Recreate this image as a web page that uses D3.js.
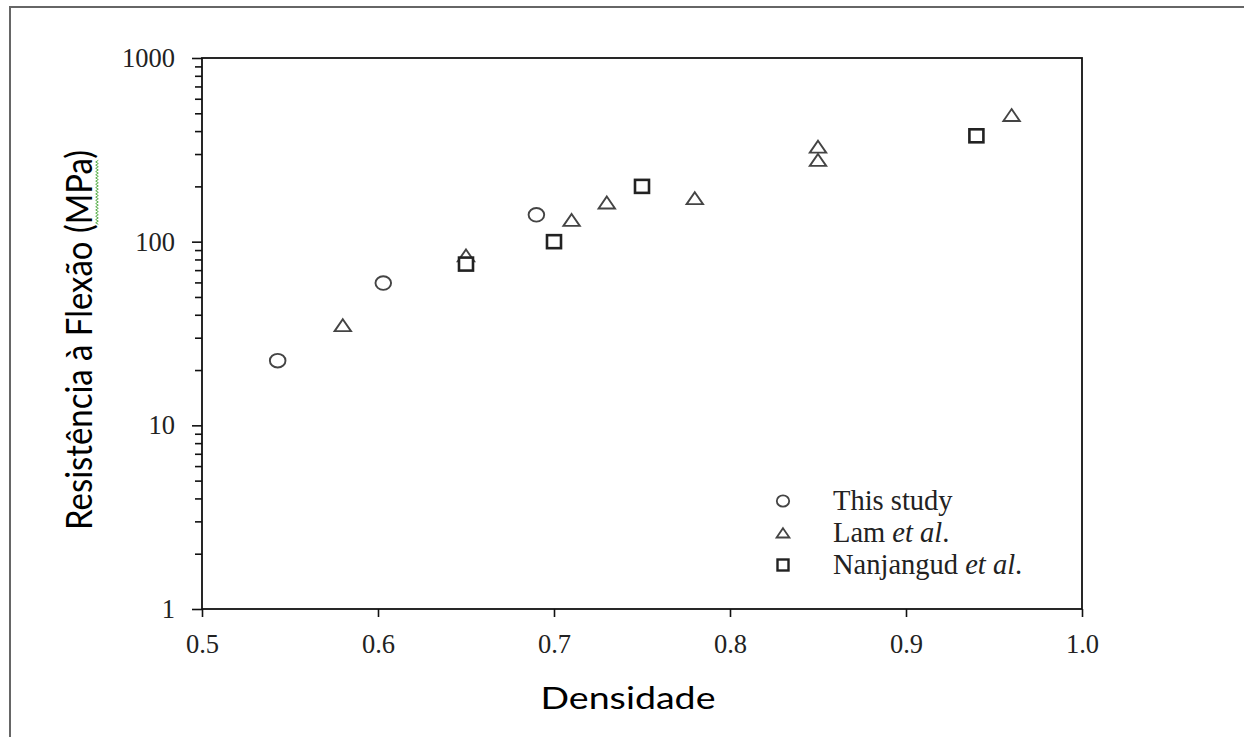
<!DOCTYPE html>
<html>
<head>
<meta charset="utf-8">
<script src="https://cdn.jsdelivr.net/npm/d3@7"></script>
<style>
  body { margin: 0; background: #fff; }
  svg { display: block; }
</style>
</head>
<body>
<svg id="chart" width="1244" height="737"></svg>
<script>
// data
var thisStudyDens = [0.543, 0.603, 0.690];
var thisStudyFlex = [22.5, 59.5, 140];
var lamDens = [0.58, 0.65, 0.71, 0.73, 0.78, 0.85, 0.85, 0.96];
var lamFlex = [35, 84, 131, 163, 172, 328, 278, 488];
var nanjDens = [0.65, 0.70, 0.75, 0.94];
var nanjFlex = [75.5, 100, 200, 377];

var xTicks = [0.5, 0.6, 0.7, 0.8, 0.9, 1.0];
var yTicks = [1, 10, 100, 1000];
var legendNames = ["This study", "Lam ", "Nanjangud "];
var legendItalic = ["", "et al", "et al"];
var legendSuffix = ["", ".", "."];
var xTitle = "Densidade";
var yTitle = "Resistência à Flexão (MPa)";

var svg = d3.select("#chart");
var m = { top: 58, right: 162, bottom: 128, left: 202 },
    W = 1244, H = 737;

// outer frame (left and top only visible)
svg.append("path")
    .attr("d", "M10," + H + "V7H" + W)
    .attr("fill", "none")
    .attr("stroke", "#666")
    .attr("stroke-width", 2);

var x = d3.scaleLinear().domain([0.5, 1.0]).range([m.left, W - m.right]);
var y = d3.scaleLog().domain([1, 1000]).range([H - m.bottom, m.top]);

var serif = "'Liberation Serif', 'Times New Roman', serif";

// minor y ticks
var minor = [];
[1, 10, 100].forEach(function(d) {
    for (var k = 2; k <= 9; k++) minor.push(d * k);
});

var yMinor = svg.append("g")
    .attr("transform", "translate(" + m.left + ",0)")
    .call(d3.axisLeft(y).tickValues(minor).tickSize(7).tickFormat(""));
yMinor.select(".domain").remove();

var yAxis = svg.append("g")
    .attr("transform", "translate(" + m.left + ",0)")
    .call(d3.axisLeft(y).tickValues(yTicks).tickSize(10).tickPadding(17)
        .tickFormat(d3.format("d")));
yAxis.select(".domain").remove();

var xAxis = svg.append("g")
    .attr("transform", "translate(0," + (H - m.bottom) + ")")
    .call(d3.axisBottom(x).tickValues(xTicks).tickSize(8).tickPadding(17)
        .tickFormat(d3.format(".1f")));
xAxis.select(".domain").remove();

svg.selectAll(".tick line").attr("stroke", "#111").attr("stroke-width", 1.6);
svg.selectAll(".tick text")
    .attr("font-family", serif)
    .attr("font-size", 26.5)
    .attr("fill", "#222");

// plot box
svg.append("rect")
    .attr("x", m.left)
    .attr("y", m.top)
    .attr("width", W - m.right - m.left)
    .attr("height", H - m.bottom - m.top)
    .attr("fill", "none")
    .attr("stroke", "#111")
    .attr("stroke-width", 1.8);

// marker shapes
function triPath(s) {
    return "M0," + (-s * 0.75) + "L" + (s) + "," + (s * 0.7) + "L" + (-s) + "," + (s * 0.7) + "Z";
}

var circles = svg.append("g");
circles.selectAll("ellipse")
    .data(d3.zip(thisStudyDens, thisStudyFlex))
    .enter()
    .append("ellipse")
    .attr("cx", function(d) { return x(d[0]); })
    .attr("cy", function(d) { return y(d[1]); })
    .attr("rx", 7.8)
    .attr("ry", 6.8)
    .attr("fill", "#fff")
    .attr("stroke", "#444")
    .attr("stroke-width", 1.9);

var tris = svg.append("g");
tris.selectAll("path")
    .data(d3.zip(lamDens, lamFlex))
    .enter()
    .append("path")
    .attr("d", triPath(8.2))
    .attr("transform", function(d) {
        return "translate(" + x(d[0]) + "," + y(d[1]) + ")";
    })
    .attr("fill", "#fff")
    .attr("stroke", "#444")
    .attr("stroke-width", 1.9)
    .attr("stroke-linejoin", "miter");

var squares = svg.append("g");
squares.selectAll("rect")
    .data(d3.zip(nanjDens, nanjFlex))
    .enter()
    .append("rect")
    .attr("x", function(d) { return x(d[0]) - 7; })
    .attr("y", function(d) { return y(d[1]) - 6.5; })
    .attr("width", 14)
    .attr("height", 13)
    .attr("fill", "#fff")
    .attr("stroke", "#222")
    .attr("stroke-width", 2.6);

// legend
var legend = svg.append("g").attr("transform", "translate(783,501)");
var legendGroup = legend.selectAll(".legendGroup")
    .data(legendNames)
    .enter()
    .append("g")
    .attr("transform", function(d, i) { return "translate(0," + i * 32 + ")"; });

legendGroup.each(function(d, i) {
    var g = d3.select(this);
    if (i === 0) {
        g.append("ellipse").attr("rx", 6.2).attr("ry", 5.6);
    } else if (i === 1) {
        g.append("path").attr("d", triPath(6.4));
    } else {
        g.append("rect").attr("x", -5.5).attr("y", -5.5).attr("width", 11).attr("height", 11);
    }
    g.select(":first-child")
        .attr("fill", "#fff")
        .attr("stroke", i === 2 ? "#222" : "#444")
        .attr("stroke-width", i === 2 ? 2.4 : 1.8);

    var t = g.append("text")
        .attr("x", 50)
        .attr("y", 9)
        .attr("font-family", serif)
        .attr("font-size", 28.5)
        .attr("fill", "#222");
    t.append("tspan").text(d);
    if (legendItalic[i]) {
        t.append("tspan").attr("font-style", "italic").text(legendItalic[i]);
        t.append("tspan").text(legendSuffix[i]);
    }
});

// axis titles
var sans = "Lato, 'Open Sans', sans-serif";
svg.append("text")
    .attr("x", 628)
    .attr("y", 709)
    .attr("text-anchor", "middle")
    .attr("font-family", sans)
    .attr("font-size", 31)
    .attr("fill", "#000")
    .attr("textLength", 175)
    .attr("lengthAdjust", "spacingAndGlyphs")
    .text(xTitle);

var yt = svg.append("g").attr("transform", "translate(92,340) rotate(-90)");
var ytText = yt.append("text")
    .attr("text-anchor", "middle")
    .attr("font-family", sans)
    .attr("font-size", 36)
    .attr("fill", "#000")
    .attr("textLength", 380)
    .attr("lengthAdjust", "spacingAndGlyphs")
    .text(yTitle);

// spell-check squiggle under "MPa"
var node = ytText.node();
var idx = yTitle.indexOf("MPa");
var x0 = node.getStartPositionOfChar(idx).x;
var x1 = node.getEndPositionOfChar(idx + 2).x;
var pts = d3.range(x0, x1, 1.6).map(function(v, k) { return [v, 5 + (k % 2 ? -1.3 : 1.3)]; });
yt.append("path")
    .attr("d", d3.line()(pts))
    .attr("fill", "none")
    .attr("stroke", "#58b04a")
    .attr("stroke-width", 1);
</script>
</body>
</html>
